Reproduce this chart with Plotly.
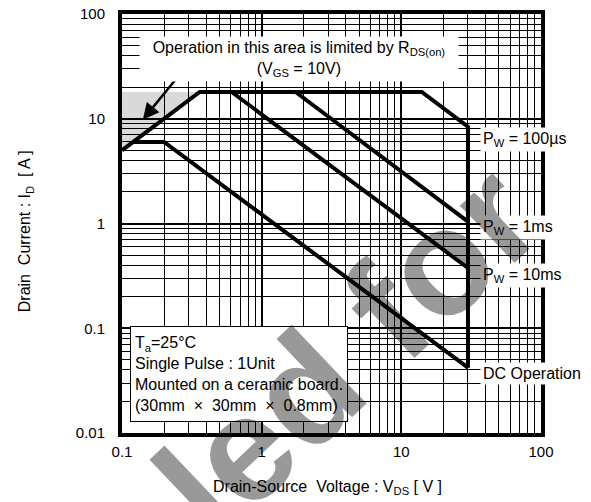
import numpy as np
import plotly.graph_objects as go

FONT = "Arial, 'Liberation Sans', sans-serif"

# ---- data (VDS [V], ID [A]) ----
env_vds = [0.1, 0.36, 14, 30, 30]          # RDS(on) limit, ID(pulse), 100us, VDSS
env_id = [5.0, 18, 18, 8.4, 0.042]
pw1ms_vds = [1.75, 30]
pw1ms_id = [18, 1.04]
pw10ms_vds = [0.61, 30]
pw10ms_id = [18, 0.376]
dc_vds = [0.12, 0.2, 30]
dc_id = [6.0, 6.0, 0.042]
rds_area_vds = [0.1, 0.1, 0.36]
rds_area_id = [5.0, 18, 18]

x_tickvals = [0.1, 1, 10, 100]
x_ticktext = ["0.1", "1", "10", "100"]
y_tickvals = [0.01, 0.1, 1, 10, 100]
y_ticktext = ["0.01", "0.1", "1", "10", "100"]
x_minor = [m * 10.0 ** e for e in range(-1, 2) for m in range(2, 10)]
y_minor = [m * 10.0 ** e for e in range(-2, 2) for m in range(2, 10)]

curve_labels = ["P<sub>W</sub> = 100µs", "P<sub>W</sub> = 1ms", "P<sub>W</sub> = 10ms", "DC Operation"]
label_id = [6.3, 0.91, 0.32, 0.037]
vdss = 30

fig = go.Figure()
fig.add_trace(go.Scatter(x=rds_area_vds, y=rds_area_id, mode="lines", fill="toself",
                         fillcolor="rgba(0,0,0,0.15)", line=dict(width=0), hoverinfo="skip"))
for xs, ys in [(env_vds, env_id), (pw1ms_vds, pw1ms_id), (pw10ms_vds, pw10ms_id), (dc_vds, dc_id)]:
    fig.add_trace(go.Scatter(x=xs, y=ys, mode="lines", line=dict(color="black", width=4)))

axis_common = dict(
    type="log", showgrid=True, gridcolor="black", gridwidth=2,
    showline=True, linecolor="black", linewidth=4, mirror=True, automargin=False,
    ticks="", zeroline=False, ticklabeloverflow="allow",
    tickfont=dict(family=FONT, size=15, color="black"),
)
fig.update_xaxes(range=[-1, 2], tickvals=x_tickvals, ticktext=x_ticktext,
                 minor=dict(tickvals=x_minor, showgrid=True, gridcolor="black", gridwidth=1, ticks=""),
                 ticklabelstandoff=2, **axis_common)
fig.update_yaxes(range=[-2, 2], tickvals=y_tickvals, ticktext=y_ticktext,
                 minor=dict(tickvals=y_minor, showgrid=True, gridcolor="black", gridwidth=1, ticks=""),
                 ticklabelstandoff=10, **axis_common)

ann = []
# R_DS(on) note with arrow
ann.append(dict(x=np.log10(0.141), y=np.log10(9.8), xref="x", yref="y",
                ax=40, ay=-49, showarrow=True, arrowhead=2, arrowsize=1.3, arrowwidth=2.5,
                arrowcolor="black", text=""))
ann.append(dict(x=0.265, y=1.566, xref="x", yref="y", showarrow=False,
                text="Operation in this area is limited by R<sub>DS(on)</sub><br>(V<sub>GS</sub> = 10V)",
                bgcolor="white", borderpad=2, width=314, align="center",
                font=dict(family=FONT, size=16, color="black")))
# conditions box
ann.append(dict(x=-0.160, y=-1.44, xref="x", yref="y", showarrow=False,
                text="T<sub>a</sub>=25°C<br>Single Pulse : 1Unit<br>Mounted on a ceramic board.<br>"
                     "(30mm\u00a0 ×\u00a0 30mm\u00a0 ×\u00a0 0.8mm)",
                align="left", bgcolor="white", bordercolor="black", borderwidth=1,
                borderpad=4, width=208, height=86,
                font=dict(family=FONT, size=16, color="black")))
# curve labels
for t, yv in zip(curve_labels, label_id):
    ann.append(dict(x=np.log10(vdss), y=np.log10(yv), xref="x", yref="y", xanchor="left",
                    xshift=12, showarrow=False, text=t, bgcolor="white", borderpad=2,
                    font=dict(family=FONT, size=16, color="black")))
# axis titles
ann.append(dict(x=0.491, y=-0.131, xref="paper", yref="paper", showarrow=False,
                xanchor="center", yanchor="middle",
                text="Drain-Source\u00a0 Voltage : V<sub>DS</sub> [ V ]",
                font=dict(family=FONT, size=16, color="black")))
ann.append(dict(x=-0.231, y=0.482, xref="paper", yref="paper", showarrow=False, textangle=-90,
                xanchor="center", yanchor="middle",
                text="Drain\u00a0 Current : I<sub>D</sub>\u00a0 [ A ]",
                font=dict(family=FONT, size=16, color="black")))
# watermark
ann.append(dict(x=0.538, y=0.198, xref="paper", yref="paper", showarrow=False, textangle=-43.5,
                xanchor="center", yanchor="middle",
                text="<b>led for</b>",
                font=dict(family=FONT, size=150, color="rgba(0,0,0,0.4)")))

# page body has an 8px default margin, so the figure is 8px smaller and margins shifted
fig.update_layout(width=583, height=494, margin=dict(l=114, r=50, t=6, b=69),
                  plot_bgcolor="white", paper_bgcolor="white", showlegend=False,
                  annotations=ann)
fig.write_html("out.html")
